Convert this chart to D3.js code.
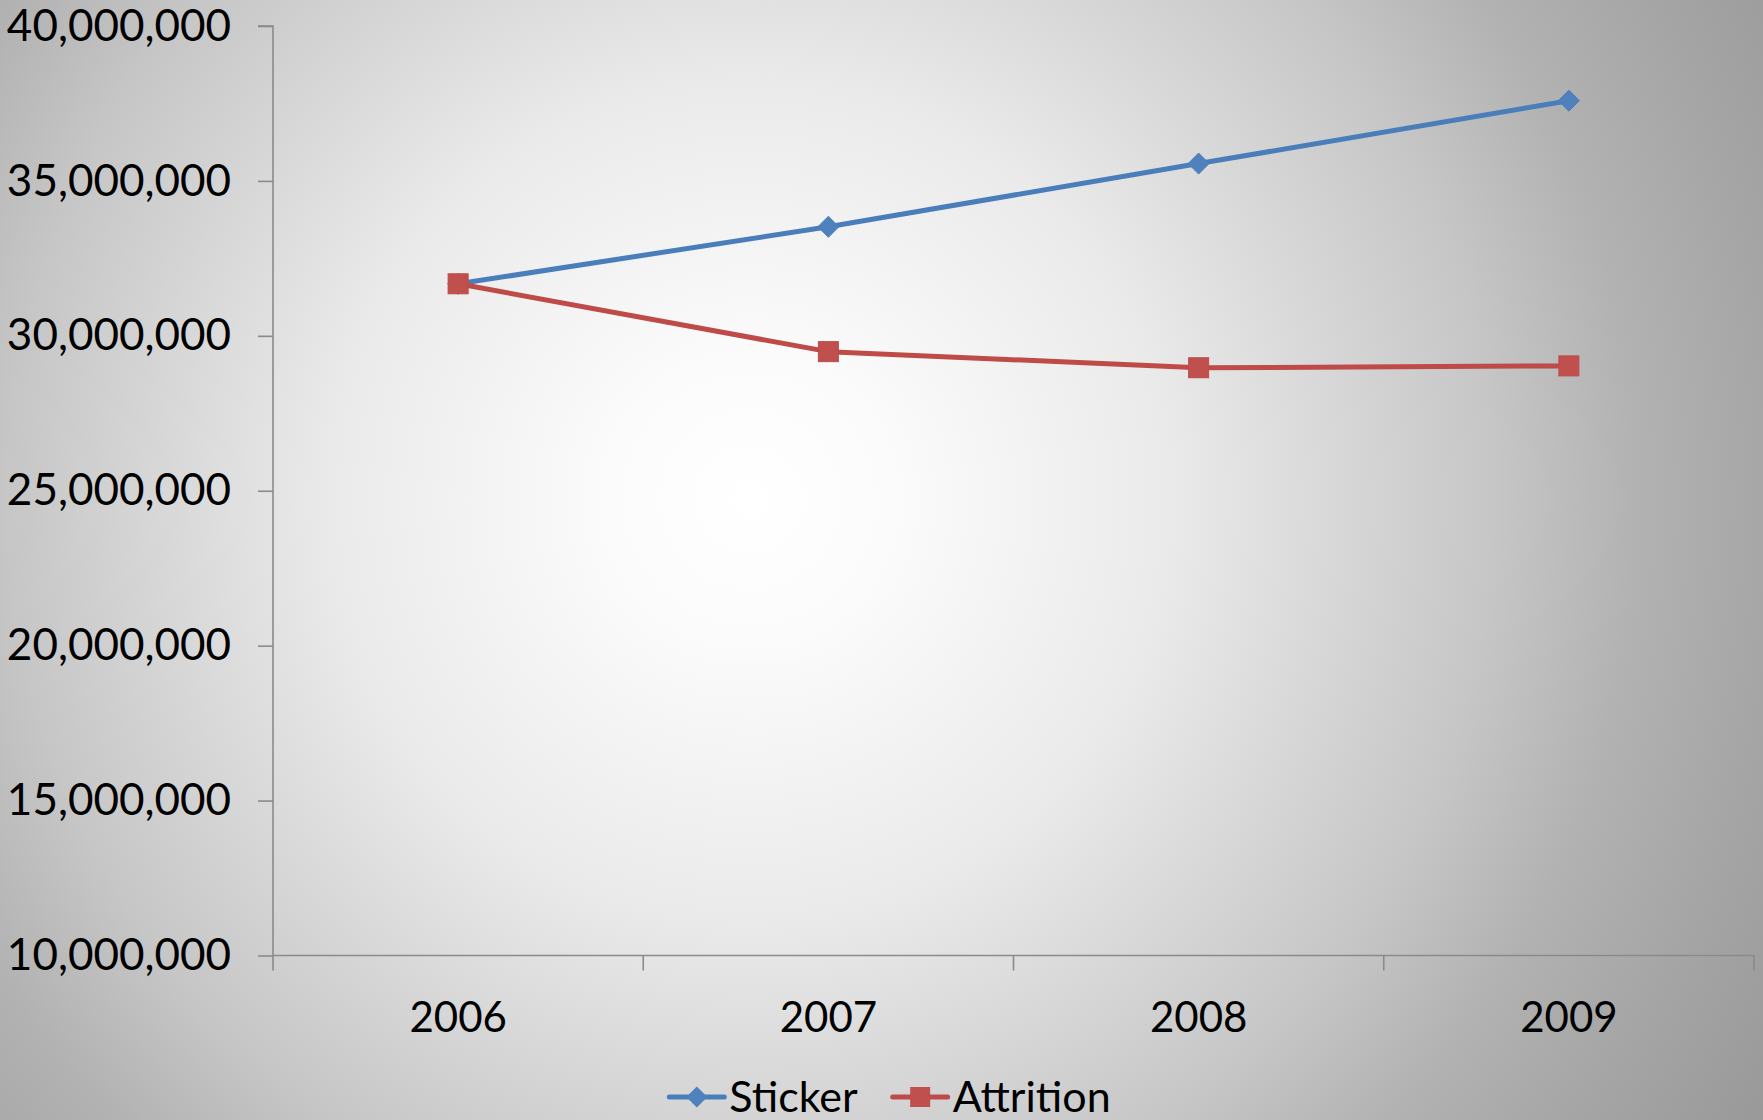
<!DOCTYPE html>
<html>
<head>
<meta charset="utf-8">
<script src="https://cdn.jsdelivr.net/npm/d3@7"></script>
<style>
  html, body { margin: 0; padding: 0; background: #fff; }
  svg { display: block; }
  text { font-family: Lato, "Open Sans", sans-serif; fill: #000; }
</style>
</head>
<body>
<svg id="chart" width="1763" height="1120"></svg>
<script>
const years = ["2006", "2007", "2008", "2009"];
const sticker = [31680000, 33520000, 35560000, 37590000];
const attrition = [31680000, 29490000, 28970000, 29030000];
const yTicks = [10000000, 15000000, 20000000, 25000000, 30000000, 35000000, 40000000];
const seriesNames = ["Sticker", "Attrition"];

(function () {
const W = 1763, H = 1120;
const svg = d3.select("#chart");

// background radial gradient
const defs = svg.append("defs");
const grad = defs.append("radialGradient")
  .attr("id", "bg").attr("gradientUnits", "userSpaceOnUse")
  .attr("cx", 750).attr("cy", 500).attr("r", 1200);
[[0, "#ffffff"], [0.12, "#fbfbfb"], [0.35, "#eaeaea"], [0.62, "#c6c6c6"], [0.74, "#b2b2b2"], [0.86, "#a5a5a5"], [1, "#989898"]]
  .forEach(([o, c]) => grad.append("stop").attr("offset", o).attr("stop-color", c));
svg.append("rect").attr("width", W).attr("height", H).attr("fill", "url(#bg)");

const mLeft = 273, mRight = 1754, mTop = 26, mBottom = 955.5;
const x = d3.scaleBand().domain(years).range([mLeft, mRight]);
const y = d3.scaleLinear().domain([10000000, 40000000]).range([mBottom, mTop]);
const cx = d => x(d) + x.bandwidth() / 2;

const axisColor = "#8a8a8a";

// Y axis
const yAxis = svg.append("g").attr("transform", `translate(${mLeft},0)`)
  .call(d3.axisLeft(y).tickValues(yTicks).tickSize(15).tickPadding(27)
    .tickFormat(d3.format(",")));
yAxis.selectAll("path, line").attr("stroke", axisColor).attr("stroke-width", 1.6);
yAxis.select(".domain").attr("d", `M-15,${mTop}H0V${mBottom}`);
yAxis.selectAll("text").attr("font-size", 44).attr("font-family", "Lato").attr("fill", "#000");

// X axis
const xAxis = svg.append("g").attr("transform", `translate(0,${mBottom})`)
  .call(d3.axisBottom(x).tickSize(0).tickPadding(47));
xAxis.select(".domain").attr("stroke", axisColor).attr("stroke-width", 1.6).attr("d", `M${mLeft},0H${mRight}`);
xAxis.selectAll("text").attr("font-size", 42).attr("font-family", "Lato").attr("fill", "#000");
// boundary ticks between categories
const bounds = years.map(d => x(d)).concat([mRight]);
svg.append("g").selectAll("line").data(bounds).join("line")
  .attr("x1", d => d).attr("x2", d => d)
  .attr("y1", mBottom).attr("y2", mBottom + 15)
  .attr("stroke", axisColor).attr("stroke-width", 1.6);

const colors = { Sticker: { line: "#4a7ebb", fill: "#4f81bd" }, Attrition: { line: "#be4b48", fill: "#c0504d" } };
const line = d3.line().x((d, i) => cx(years[i])).y(d => y(d));

const diamond = s => `M0,${-s}L${s},0L0,${s}L${-s},0Z`;

// Sticker
svg.append("path").datum(sticker).attr("d", line)
  .attr("fill", "none").attr("stroke", colors.Sticker.line).attr("stroke-width", 5).attr("stroke-linejoin", "round");
svg.append("g").selectAll("path").data(sticker).join("path")
  .attr("transform", (d, i) => `translate(${cx(years[i])},${y(d)})`)
  .attr("d", diamond(10.5)).attr("fill", colors.Sticker.fill).attr("stroke", colors.Sticker.line).attr("stroke-width", 1);

// Attrition
svg.append("path").datum(attrition).attr("d", line)
  .attr("fill", "none").attr("stroke", colors.Attrition.line).attr("stroke-width", 5).attr("stroke-linejoin", "round");
svg.append("g").selectAll("rect").data(attrition).join("rect")
  .attr("x", (d, i) => cx(years[i]) - 10).attr("y", d => y(d) - 10)
  .attr("width", 20).attr("height", 20)
  .attr("fill", colors.Attrition.fill).attr("stroke", colors.Attrition.line).attr("stroke-width", 1);

// Legend
const legend = svg.append("g");
const ly = 1097;
let lx = 0;
seriesNames.forEach((name, i) => {
  const g = legend.append("g").attr("transform", `translate(${lx},0)`);
  g.append("line").attr("x1", 0).attr("x2", 55).attr("y1", ly).attr("y2", ly)
    .attr("stroke", colors[name].line).attr("stroke-width", 5).attr("stroke-linecap", "round");
  if (name === "Sticker") {
    g.append("path").attr("transform", `translate(27.5,${ly})`).attr("d", diamond(10.5)).attr("fill", colors[name].fill);
  } else {
    g.append("rect").attr("x", 17.5).attr("y", ly - 10).attr("width", 20).attr("height", 20).attr("fill", colors[name].fill);
  }
  const t = g.append("text").attr("x", 60).attr("y", ly).attr("dy", "0.35em")
    .attr("font-size", 43).text(name);
  const tw = t.node().getComputedTextLength();
  lx += 60 + tw + 35;
});
const lw = lx - 35;
legend.attr("transform", `translate(${890 - lw / 2},0)`);
})();
</script>
</body>
</html>
